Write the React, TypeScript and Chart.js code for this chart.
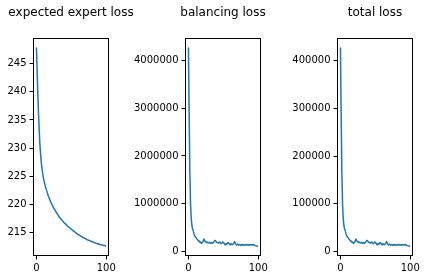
import React, { useEffect, useRef } from "react";
import { Chart, registerables } from "chart.js";

Chart.register(...registerables);

// ---- data ----
const titles = ["expected expert loss", "balancing loss", "total loss"];
const xTicks = [0, 100];
const expertTicks = [215, 220, 225, 230, 235, 240, 245];
const balancingTicks = [0, 1000000, 2000000, 3000000, 4000000];
const totalTicks = [0, 100000, 200000, 300000, 400000];

const expertLoss = [
  247.8, 243.5, 239.5, 236.0, 233.0, 230.5, 228.8, 227.4, 226.3, 225.4,
  224.7, 224.1, 223.6, 223.1, 222.7, 222.3, 221.9, 221.5, 221.2, 220.9,
  220.6, 220.3, 220.0, 219.8, 219.5, 219.3, 219.1, 218.9, 218.7, 218.5,
  218.3, 218.1, 217.9, 217.7, 217.6, 217.4, 217.3, 217.1, 217.0, 216.8,
  216.7, 216.6, 216.5, 216.4, 216.2, 216.1, 216.0, 215.9, 215.8, 215.7,
  215.6, 215.5, 215.4, 215.3, 215.2, 215.1, 215.0, 214.9, 214.8, 214.7,
  214.6, 214.6, 214.5, 214.4, 214.3, 214.3, 214.2, 214.1, 214.1, 214.0,
  213.9, 213.9, 213.8, 213.7, 213.7, 213.6, 213.6, 213.5, 213.5, 213.4,
  213.4, 213.3, 213.3, 213.2, 213.2, 213.1, 213.1, 213.0, 213.0, 213.0,
  212.9, 212.9, 212.9, 212.8, 212.8, 212.8, 212.7, 212.7, 212.7, 212.6,
];

const balancingLoss = [
  4260000, 2900000, 1650000, 1000000, 680000, 540000, 470000, 430000, 360000, 335000,
  300000, 290000, 265000, 250000, 230000, 210000, 220000, 185000, 195000, 175000,
  190000, 215000, 265000, 240000, 210000, 205000, 185000, 200000, 190000, 180000,
  195000, 180000, 175000, 190000, 170000, 185000, 200000, 215000, 235000, 225000,
  200000, 195000, 185000, 175000, 190000, 200000, 175000, 165000, 180000, 205000,
  195000, 175000, 150000, 140000, 165000, 155000, 170000, 190000, 175000, 150000,
  140000, 165000, 150000, 145000, 160000, 175000, 210000, 180000, 150000, 140000,
  155000, 145000, 135000, 150000, 140000, 130000, 145000, 135000, 150000, 140000,
  130000, 145000, 140000, 150000, 135000, 145000, 140000, 130000, 150000, 140000,
  145000, 135000, 150000, 140000, 145000, 130000, 125000, 120000, 115000, 118000,
];

const totalLoss = [
  426250, 290243, 165240, 100236, 68233, 54231, 47229, 43227, 36226, 33725,
  30225, 29224, 26724, 25223, 23223, 21222, 22222, 18722, 19721, 17721,
  19221, 21720, 26720, 24220, 21220, 20719, 18719, 20219, 19219, 18219,
  19718, 18218, 17718, 19218, 17218, 18717, 20217, 21717, 23717, 22717,
  20217, 19717, 18716, 17716, 19216, 20216, 17716, 16716, 18216, 20716,
  19716, 17715, 15215, 14215, 16715, 15715, 17215, 19215, 17715, 15215,
  14215, 16715, 15214, 14714, 16214, 17714, 21214, 18214, 15214, 14214,
  15714, 14714, 13714, 15214, 14214, 13214, 14714, 13713, 15213, 14213,
  13213, 14713, 14213, 15213, 13713, 14713, 14213, 13213, 15213, 14213,
  14713, 13713, 15213, 14213, 14713, 13213, 12713, 12213, 11713, 12013,
];

const FONT = "DejaVu Sans";
const CANVAS_H = 280;
const AREA_TOP = 38;
const X_AXIS_H = 24;
const AREA_W = 76;

type PanelProps = {
  title: string;
  values: number[];
  yTicks: number[];
  areaLeft: number;
  yW: number;
  rightPad: number;
};

function Panel({ title, values, yTicks, areaLeft, yW, rightPad }: PanelProps) {
  const ref = useRef<HTMLCanvasElement | null>(null);
  const width = yW + AREA_W + rightPad;

  useEffect(() => {
    if (!ref.current) return;
    const lo = Math.min(...values);
    const hi = Math.max(...values);
    const m = (hi - lo) * 0.05;
    const n = values.length - 1;
    const xm = n * 0.05;

    const framePlugin = {
      id: "frame" + title.replace(/\s/g, ""),
      afterDraw(chart: any) {
        const { ctx, chartArea } = chart;
        const { left, top, right, bottom } = chartArea;
        ctx.save();
        ctx.strokeStyle = "#000";
        ctx.lineWidth = 1;
        ctx.strokeRect(left + 0.5, top + 0.5, right - left - 1, bottom - top - 1);
        ctx.font = `12px "${FONT}"`;
        ctx.fillStyle = "#000";
        ctx.textAlign = "center";
        ctx.textBaseline = "middle";
        ctx.fillText(title, (left + right) / 2, 13);
        ctx.restore();
      },
    };

    const tickStyle = {
      font: { family: FONT, size: 10 },
      color: "#000",
      padding: 3,
      autoSkip: false,
      maxRotation: 0,
      callback: (v: any) => String(v),
    };
    const gridStyle = {
      drawOnChartArea: false,
      drawTicks: true,
      tickLength: 3.5,
      color: "#000",
      lineWidth: 1,
    };

    const chart = new Chart(ref.current, {
      type: "line",
      data: {
        datasets: [
          {
            data: values.map((v, i) => ({ x: i, y: v })),
            borderColor: "#1f77b4",
            borderWidth: 1.5,
            borderJoinStyle: "round",
            borderCapStyle: "round",
            pointRadius: 0,
            fill: false,
            // tiny tension only to avoid Chart.js' pixel-collapsing fast path
            tension: 0.000001,
          },
        ],
      },
      options: {
        responsive: false,
        animation: false,
        events: [],
        layout: { padding: { left: 0, right: rightPad, top: AREA_TOP, bottom: 0 } },
        plugins: { legend: { display: false }, title: { display: false }, tooltip: { enabled: false } },
        scales: {
          x: {
            type: "linear",
            min: -xm,
            max: n + xm,
            afterBuildTicks: (s: any) => {
              s.ticks = xTicks.map((v) => ({ value: v }));
            },
            afterFit: (s: any) => {
              s.height = X_AXIS_H;
            },
            border: { display: false },
            grid: gridStyle,
            ticks: tickStyle,
          },
          y: {
            type: "linear",
            min: lo - m,
            max: hi + m,
            afterBuildTicks: (s: any) => {
              s.ticks = yTicks.map((v) => ({ value: v }));
            },
            afterFit: (s: any) => {
              s.width = yW;
            },
            border: { display: false },
            grid: gridStyle,
            ticks: tickStyle,
          },
        },
      } as any,
      plugins: [framePlugin],
    });
    return () => chart.destroy();
  }, [title, values, yTicks, yW, rightPad]);

  return (
    <canvas
      ref={ref}
      width={width}
      height={CANVAS_H}
      style={{
        position: "absolute",
        left: areaLeft - yW,
        top: 0,
        width,
        height: CANVAS_H,
      }}
    />
  );
}

export default function App() {
  return (
    <div
      style={{
        position: "absolute",
        left: 0,
        top: 0,
        width: 425,
        height: 280,
        overflow: "hidden",
        background: "#fff",
      }}
    >
      <Panel title={titles[0]} values={expertLoss} yTicks={expertTicks} areaLeft={33} yW={33} rightPad={30} />
      <Panel title={titles[1]} values={balancingLoss} yTicks={balancingTicks} areaLeft={185} yW={52} rightPad={20} />
      <Panel title={titles[2]} values={totalLoss} yTicks={totalTicks} areaLeft={337} yW={50} rightPad={12} />
    </div>
  );
}
